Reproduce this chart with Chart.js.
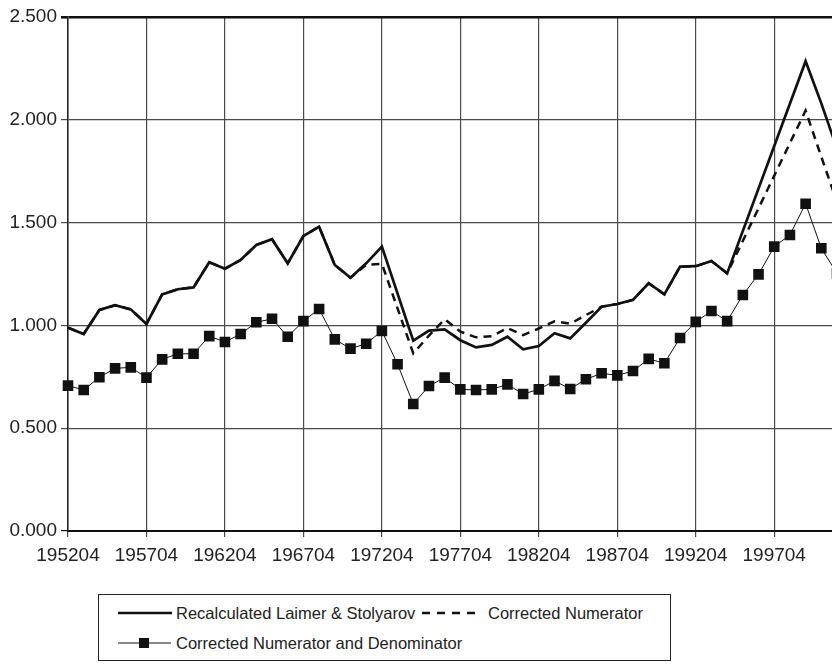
<!DOCTYPE html>
<html>
<head>
<meta charset="utf-8">
<script src="https://cdn.jsdelivr.net/npm/chart.js@4/dist/chart.umd.min.js"></script>
<style>
  html, body {
    margin: 0;
    padding: 0;
    background: #fff;
    width: 832px;
    height: 670px;
    overflow: hidden;
    position: relative;
  }
  #chart {
    position: absolute;
    left: 0;
    top: 0;
  }
  #legend {
    position: absolute;
    left: 98px;
    top: 594px;
    width: 573px;
    height: 67px;
    border: 1px solid #222;
    box-sizing: border-box;
    font-family: "Liberation Sans", Arial, sans-serif;
    font-size: 16.5px;
    color: #222;
  }
  .item {
    position: absolute;
    white-space: nowrap;
    line-height: 20px;
  }
</style>
</head>
<body>
<canvas id="chart" width="860" height="570"></canvas>

<div id="legend">
  <svg width="574" height="66" style="position:absolute;left:0;top:0">
    <line x1="19" y1="18" x2="73" y2="18" stroke="#111" stroke-width="2.6"/>
    <line x1="323" y1="18" x2="381" y2="18" stroke="#111" stroke-width="2.6" stroke-dasharray="8,7"/>
    <line x1="19" y1="48" x2="72" y2="48" stroke="#111" stroke-width="1"/>
    <rect x="40" y="43" width="10" height="10" fill="#111"/>
  </svg>
  <div class="item" style="left:77px;top:8px">Recalculated Laimer &amp; Stolyarov</div>
  <div class="item" style="left:389px;top:8px">Corrected Numerator</div>
  <div class="item" style="left:77px;top:38px">Corrected Numerator and Denominator</div>
</div>

<script>
// annual observations, 1952..2001
const years = [
  "195204", "195304", "195404", "195504", "195604", "195704", "195804", "195904", "196004", "196104",
  "196204", "196304", "196404", "196504", "196604", "196704", "196804", "196904", "197004", "197104",
  "197204", "197304", "197404", "197504", "197604", "197704", "197804", "197904", "198004", "198104",
  "198204", "198304", "198404", "198504", "198604", "198704", "198804", "198904", "199004", "199104",
  "199204", "199304", "199404", "199504", "199604", "199704", "199804", "199904", "200004", "200104"
];

const recalculated = [
  0.989, 0.958, 1.075, 1.098, 1.078, 1.007, 1.151, 1.176, 1.185, 1.307,
  1.276, 1.318, 1.391, 1.419, 1.302, 1.435, 1.480, 1.294, 1.232, 1.302,
  1.383, null, 0.926, 0.975, 0.981, 0.928, 0.893, 0.905, 0.945, 0.884,
  0.900, 0.962, 0.937, 1.013, 1.091, 1.104, 1.124, 1.205, 1.151, 1.286,
  1.288, 1.313, 1.253, null, null, null, null, 2.285, 2.080, 1.860
];

const correctedNumerator = [
  0.989, 0.958, 1.075, 1.098, 1.078, 1.007, 1.151, 1.176, 1.185, 1.307,
  1.276, 1.318, 1.391, 1.419, 1.302, 1.435, 1.480, 1.294, 1.232, 1.295,
  1.300, null, 0.864, 0.950, 1.030, 0.970, 0.942, 0.947, 0.987, 0.953,
  0.985, 1.020, 1.008, 1.050, 1.091, 1.104, 1.124, 1.205, 1.151, 1.286,
  1.288, 1.313, 1.253, null, null, null, null, 2.045, 1.820, 1.600
];

const correctedBoth = [
  0.707, 0.686, 0.748, 0.791, 0.796, 0.746, 0.835, 0.862, 0.862, 0.948,
  0.919, 0.958, 1.015, 1.032, 0.945, 1.021, 1.080, 0.932, 0.887, 0.911,
  0.973, 0.811, 0.618, 0.705, 0.746, 0.689, 0.686, 0.689, 0.713, 0.666,
  0.689, 0.730, 0.691, 0.738, 0.767, 0.757, 0.778, 0.837, 0.816, 0.939,
  1.017, 1.070, 1.021, 1.148, 1.248, 1.383, 1.440, 1.592, 1.375, 1.253
];

const INK = "#111";
const GRID = "#4a4a4a";
const FONT = { family: "'Liberation Sans', Arial, sans-serif", size: 19 };

const ctx = document.getElementById("chart").getContext("2d");

new Chart(ctx, {
  type: "line",
  data: {
    labels: years,
    datasets: [
      {
        label: "Recalculated Laimer & Stolyarov",
        data: recalculated,
        borderColor: INK,
        borderWidth: 2.7,
        pointRadius: 0,
        spanGaps: true,
        tension: 0,
        order: 0,
      },
      {
        label: "Corrected Numerator",
        data: correctedNumerator,
        borderColor: INK,
        borderWidth: 2.5,
        borderDash: [8, 6],
        pointRadius: 0,
        spanGaps: true,
        tension: 0,
        order: 1,
      },
      {
        label: "Corrected Numerator and Denominator",
        data: correctedBoth,
        borderColor: INK,
        borderWidth: 1,
        pointStyle: "rect",
        pointRadius: 7.5,
        pointBackgroundColor: INK,
        pointBorderWidth: 0,
        tension: 0,
        order: 2,
      },
    ],
  },
  options: {
    responsive: false,
    animation: false,
    devicePixelRatio: 1,
    layout: { padding: { left: 0, top: 17, right: 23, bottom: 0 } },
    plugins: {
      legend: { display: false },
      tooltip: { enabled: false },
    },
    scales: {
      x: {
        type: "category",
        border: { color: INK, width: 2 },
        grid: {
          color: (c) => (c.index % 5 === 0 ? GRID : "rgba(0,0,0,0)"),
          lineWidth: 1.2,
          tickLength: 6,
        },
        ticks: {
          autoSkip: false,
          maxRotation: 0,
          minRotation: 0,
          padding: 7,
          color: "#222",
          font: FONT,
          callback: function (value, index) {
            return index % 5 === 0 ? this.getLabelForValue(value) : "";
          },
        },
        afterFit: (scale) => {
          scale.height = 39;
          scale.paddingRight = 0;
        },
      },
      y: {
        min: 0,
        max: 2.5,
        border: { color: "#222", width: 1.5 },
        grid: {
          color: (c) => (c.tick && (c.tick.value === 2.5 || c.tick.value === 0) ? INK : GRID),
          lineWidth: (c) => (c.tick && c.tick.value === 2.5 ? 2.6 : 1.2),
          tickLength: 7,
        },
        ticks: {
          stepSize: 0.5,
          padding: 4,
          color: "#222",
          font: FONT,
          callback: (v) => v.toFixed(3),
        },
        afterFit: (scale) => {
          scale.width = 68;
        },
      },
    },
  },
});
</script>
</body>
</html>
